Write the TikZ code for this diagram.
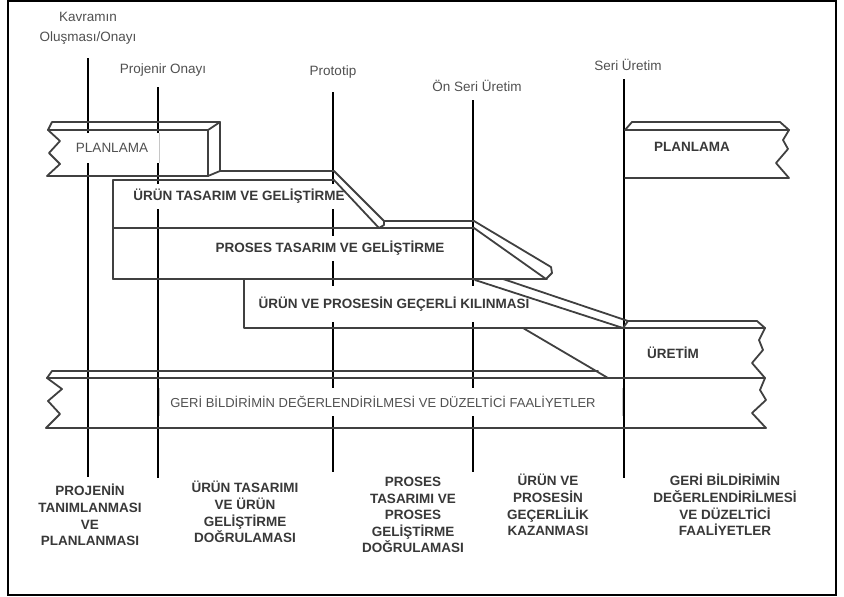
\documentclass[tikz,border=0pt]{standalone}
\usepackage{fontspec}
\setmainfont{Liberation Sans}
\definecolor{slabc}{HTML}{404040}
\definecolor{lblc}{HTML}{505050}
\definecolor{boldc}{HTML}{383838}
\begin{document}
\begin{tikzpicture}[x=1pt,y=-1pt,
  slab/.style={draw=slabc, line width=1.8pt, line join=round, line cap=round},
  mile/.style={draw=black, line width=2.4pt},
  edgeline/.style={draw=gray!45, line width=0.6pt},
  toplbl/.style={text=lblc, font=\fontsize{13.5}{20}\selectfont, align=center, inner sep=0},
  botlbl/.style={text=boldc, font=\bfseries\fontsize{13.5}{16.6}\selectfont, align=center, inner sep=0},
  slablbl/.style={fill=white, text=boldc, font=\bfseries\fontsize{13.5}{16}\selectfont, inner xsep=4, inner ysep=0, minimum height=25},
  plainlbl/.style={text=lblc, font=\fontsize{13.5}{16}\selectfont, inner sep=0}
]
\useasboundingbox (0,0) rectangle (844,597);
\draw[line width=2pt] (8,1) rectangle (835.5,594.5);

% milestone labels
\node[toplbl] (k1) at (88,28) {Kavramın\\Oluşması/Onayı};
\node[toplbl] (k2) at (163,70) {Projenir Onayı};
\node[toplbl] (k3) at (333,72) {Prototip};
\node[toplbl] (k4) at (477,86) {Ön Seri Üretim};
\node[toplbl] (k5) at (628,65) {Seri Üretim};

% milestone lines
\coordinate (m1t) at (88,58);  \coordinate (m1b) at (88,477);
\coordinate (m2t) at (158,87); \coordinate (m2b) at (158,478);
\coordinate (m3t) at (333,92); \coordinate (m3b) at (333,472);
\coordinate (m4t) at (473,100);\coordinate (m4b) at (473,472);
\coordinate (m5t) at (624,79); \coordinate (m5b) at (624,478);
\draw[mile] (m1t) -- (m1b);
\draw[mile] (m2t) -- (m2b);
\draw[mile] (m3t) -- (m3b);
\draw[mile] (m4t) -- (m4b);
\draw[mile] (m5t) -- (m5b);

% text boxes covering the lines
\fill[white] (66,133) rectangle (159,163);
\draw[edgeline] (159,133) -- (159,163);
\node[plainlbl] (pl1) at (112,148) {PLANLAMA};

\fill[white] (159,388) rectangle (622,416);
\draw[edgeline] (159,388) -- (159,416);
\draw[edgeline] (622,388) -- (622,416);
\node[plainlbl, font=\fontsize{13}{16}\selectfont] (geri) at (383,402) {GERİ BİLDİRİMİN DEĞERLENDİRİLMESİ VE DÜZELTİCİ FAALİYETLER};

\node[slablbl] (urt) at (239,196) {ÜRÜN TASARIM VE GELİŞTİRME};
\node[slablbl] (prs) at (330,248) {PROSES TASARIM VE GELİŞTİRME};
\node[slablbl, minimum height=36] (gec) at (394,304) {ÜRÜN VE PROSESİN GEÇERLİ KILINMASI};

% left PLANLAMA slab
\draw[slab] (48,130) -- (208,130) -- (208,176) -- (47,176) -- (60,164) -- (49,153) -- (60,141) -- cycle;
\draw[slab] (48,130) -- (52,122) -- (220,122) -- (220,171) -- (208,176);
\draw[slab] (208,130) -- (220,122);

% ÜRÜN TASARIM slab
\draw[slab] (113,180) -- (113,279);
\draw[slab] (113,180) -- (334,180);
\draw[slab] (220,171) -- (334,171) -- (384,221) -- (384,225) -- (379,228) -- (334,180);
% PROSES slab
\draw[slab] (113,228) -- (474,228);
\draw[slab] (384,221) -- (474,221) -- (551,267) -- (552,273) -- (546,279) -- (474,228);
\draw[slab] (113,279) -- (547,279);
% ÜRÜN VE PROSESİN slab
\draw[slab] (244,279) -- (244,328) -- (765,328);
\draw[slab] (503,279) -- (628,321) -- (623,328) -- (475,280);
% ÜRETİM slab
\draw[slab] (628,321) -- (757,321) -- (765,328);
\draw[slab] (523,328) -- (608,378);
% GERİ BİLDİRİM slab
\draw[slab] (47,378) -- (52,371) -- (598,371);
\draw[slab] (47,378) -- (765,378);
\draw[slab] (46,428) -- (766,428);
\draw[slab] (47,378) -- (62,389) -- (48,401) -- (60,414) -- (46,428);
\draw[slab] (765,328) -- (759,340) -- (763,350) -- (752,363) -- (765,378) -- (760,390) -- (766,400) -- (752,413) -- (766,428);
% right PLANLAMA slab
\draw[slab] (625,130) -- (632,122) -- (780,122) -- (789,130);
\draw[slab] (625,130) -- (789,130) -- (783,140) -- (788,149) -- (776,163) -- (789,178) -- (625,178);

\node[botlbl] (pl2) at (692,147) {PLANLAMA};
\node[botlbl] (ure) at (673,353) {ÜRETİM};

% bottom phase labels
\node[botlbl] (b1) at (90,515) {PROJENİN\\TANIMLANMASI\\VE\\PLANLANMASI};
\node[botlbl] (b2) at (245,512) {ÜRÜN TASARIMI\\VE ÜRÜN\\GELİŞTİRME\\DOĞRULAMASI};
\node[botlbl] (b3) at (413,515) {PROSES\\TASARIMI VE\\PROSES\\GELİŞTİRME\\DOĞRULAMASI};
\node[botlbl] (b4) at (548,505) {ÜRÜN VE\\PROSESİN\\GEÇERLİLİK\\KAZANMASI};
\node[botlbl] (b5) at (725,505) {GERİ BİLDİRİMİN\\DEĞERLENDİRİLMESİ\\VE DÜZELTİCİ\\FAALİYETLER};
\end{tikzpicture}
\end{document}
